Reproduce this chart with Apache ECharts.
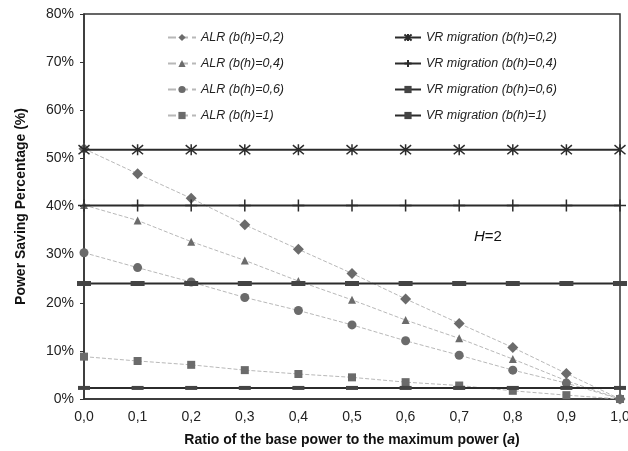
<!DOCTYPE html>
<html>
<head>
<meta charset="utf-8">
<script src="https://cdn.jsdelivr.net/npm/echarts@6/dist/echarts.min.js"></script>
<style>
  html, body { margin: 0; padding: 0; background: #fff; }
  #chart { width: 628px; height: 451px; }
</style>
</head>
<body>
<div id="chart"></div>
<script>
// ratio a (x axis)
const ratios = [0.0, 0.1, 0.2, 0.3, 0.4, 0.5, 0.6, 0.7, 0.8, 0.9, 1.0];

// ALR curves (%)
const alr02 = [52, 46.8, 41.7, 36.2, 31.1, 26.1, 20.8, 15.7, 10.7, 5.3, 0];
const alr04 = [40.3, 37.1, 32.7, 28.8, 24.5, 20.6, 16.4, 12.6, 8.3, 3.8, 0];
const alr06 = [30.4, 27.3, 24.3, 21.1, 18.4, 15.4, 12.1, 9.1, 6.0, 3.3, 0];
const alr1 = [8.8, 7.9, 7.1, 6.0, 5.2, 4.5, 3.5, 2.8, 1.7, 0.8, 0];

// VR migration (flat)
const vr02 = [51.8, 51.8, 51.8, 51.8, 51.8, 51.8, 51.8, 51.8, 51.8, 51.8, 51.8];
const vr04 = [40.2, 40.2, 40.2, 40.2, 40.2, 40.2, 40.2, 40.2, 40.2, 40.2, 40.2];
const vr06 = [24.0, 24.0, 24.0, 24.0, 24.0, 24.0, 24.0, 24.0, 24.0, 24.0, 24.0];
const vr1 = [2.3, 2.3, 2.3, 2.3, 2.3, 2.3, 2.3, 2.3, 2.3, 2.3, 2.3];

const alrNames = ['ALR (b(h)=0,2)', 'ALR (b(h)=0,4)', 'ALR (b(h)=0,6)', 'ALR (b(h)=1)'];
const vrNames = ['VR migration (b(h)=0,2)', 'VR migration (b(h)=0,4)', 'VR migration (b(h)=0,6)', 'VR migration (b(h)=1)'];

const pairs = arr => ratios.map((x, i) => [x, arr[i]]);

const markGray = '#6b6b6b';
const lineDark = '#2b2b2b';

function alrSeries(name, data, symbol, size) {
    return {
        name: name,
        type: 'line',
        data: pairs(data),
        symbol: symbol,
        symbolSize: size,
        lineStyle: { color: '#b8b8b8', width: 1, type: 'dashed' },
        itemStyle: { color: markGray },
        z: 2
    };
}

function vrSeries(name, data, symbol, size, stroke) {
    return {
        name: name,
        type: 'line',
        data: pairs(data),
        symbol: symbol,
        symbolSize: size,
        lineStyle: { color: lineDark, width: 2 },
        itemStyle: stroke
            ? { color: lineDark, borderColor: lineDark, borderWidth: 1.5 }
            : { color: '#444' },
        z: 3
    };
}

const asterisk = 'path://M0,0L10,10M10,0L0,10M5,-1L5,11M5,5';
const plus = 'path://M5,0L5,10M0,5L10,5';
const bar = 'rect';

const legendText = { fontFamily: 'Liberation Sans, Arial', fontStyle: 'italic', fontSize: 12.5, color: '#222' };

const chart = echarts.init(document.getElementById('chart'));

chart.setOption({
    animation: false,
    grid: {
        left: 84, right: 8, top: 14, bottom: 52,
        outerBoundsMode: 'none',
        show: true, borderColor: '#333', borderWidth: 1.5
    },
    legend: [{
        data: alrNames,
        orient: 'vertical',
        left: 162,
        top: 26,
        itemGap: 13,
        itemWidth: 28,
        itemHeight: 9,
        textStyle: legendText
    }, {
        data: vrNames,
        orient: 'vertical',
        left: 389,
        top: 26,
        itemGap: 13,
        itemWidth: 26,
        itemHeight: 9,
        textStyle: legendText
    }],
    xAxis: {
        type: 'value',
        min: 0,
        max: 1,
        interval: 0.1,
        name: '{b|Ratio of the base power to the maximum power (}{i|a}{b|)}',
        nameLocation: 'middle',
        nameGap: 34,
        nameTextStyle: {
            rich: {
                b: { fontFamily: 'Liberation Sans, Arial', fontWeight: 'bold', fontSize: 14, color: '#111' },
                i: { fontFamily: 'Liberation Sans, Arial', fontWeight: 'bold', fontStyle: 'italic', fontSize: 14, color: '#111' }
            }
        },
        axisLine: { lineStyle: { color: '#333', width: 1.5 } },
        axisTick: { show: false },
        splitLine: { show: false },
        axisLabel: {
            margin: 11,
            fontFamily: 'Liberation Sans, Arial',
            fontSize: 14,
            color: '#222',
            formatter: v => v.toFixed(1).replace('.', ',')
        }
    },
    yAxis: {
        type: 'value',
        min: 0,
        max: 80,
        interval: 10,
        name: 'Power Saving Percentage (%)',
        nameLocation: 'middle',
        nameGap: 56,
        nameTextStyle: { fontFamily: 'Liberation Sans, Arial', fontWeight: 'bold', fontSize: 14, color: '#111' },
        axisLine: { show: true, lineStyle: { color: '#333', width: 1.5 } },
        axisTick: { show: true, length: 4, lineStyle: { color: '#333' } },
        splitLine: { show: false },
        axisLabel: {
            margin: 10,
            fontFamily: 'Liberation Sans, Arial',
            fontSize: 14,
            color: '#222',
            formatter: '{value}%'
        }
    },
    graphic: [{
        type: 'text',
        left: 474,
        top: 229,
        style: {
            text: '{i|H}{n|=2}',
            rich: {
                i: { fontFamily: 'Liberation Sans, Arial', fontStyle: 'italic', fontSize: 15, fill: '#111' },
                n: { fontFamily: 'Liberation Sans, Arial', fontSize: 15, fill: '#111' }
            }
        }
    }],
    series: [
        alrSeries(alrNames[0], alr02, 'diamond', 11),
        alrSeries(alrNames[1], alr04, 'triangle', 8),
        alrSeries(alrNames[2], alr06, 'circle', 9),
        alrSeries(alrNames[3], alr1, 'rect', 8),
        vrSeries(vrNames[0], vr02, asterisk, 11, true),
        vrSeries(vrNames[1], vr04, plus, 12, true),
        vrSeries(vrNames[2], vr06, bar, [14, 5], false),
        vrSeries(vrNames[3], vr1, bar, [12, 4], false)
    ]
});
</script>
</body>
</html>
